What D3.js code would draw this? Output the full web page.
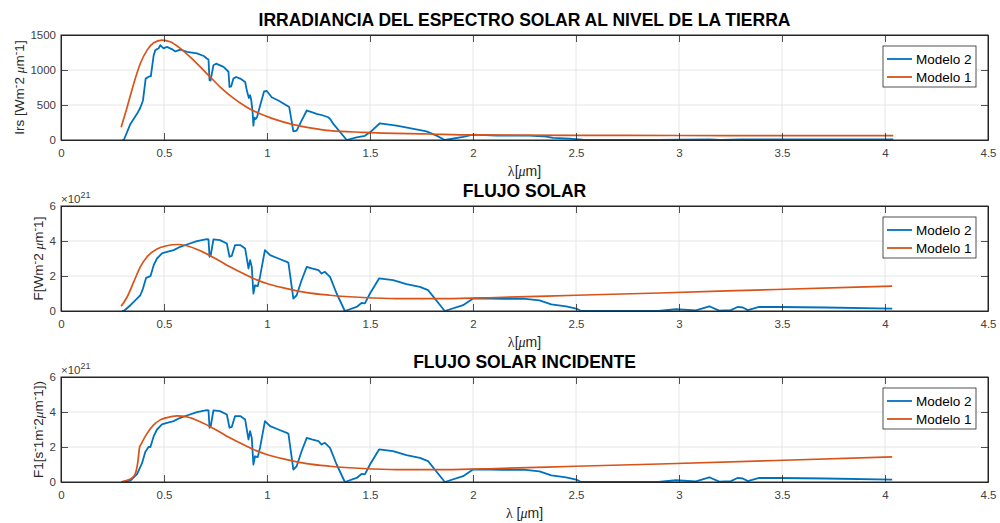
<!DOCTYPE html>
<html>
<head>
<meta charset="utf-8">
<script src="https://cdn.jsdelivr.net/npm/d3@7"></script>
<style>
  body { margin: 0; background: #fff; }
  svg { display: block; }
  text { font-family: "Liberation Sans", Arial, Helvetica, sans-serif; }
</style>
</head>
<body>
<div id="chart"></div>
<script>
// wavelength ticks (µm)
const xTicks = [0, 0.5, 1, 1.5, 2, 2.5, 3, 3.5, 4, 4.5];
const irrYTicks = [0, 500, 1000, 1500];
const fluxYTicks = [0, 2, 4, 6];   // in units of 1e21

// panel 1: irradiance [W m^-2 µm^-1], pairs [lambda, value]
const irrModelo2 = [
  [0.298, 0], [0.305, 0], [0.337, 230], [0.369, 374], [0.385, 460], [0.398, 565],
  [0.411, 877], [0.43, 910], [0.436, 910], [0.45, 1212], [0.458, 1284], [0.474, 1310],
  [0.482, 1356], [0.49, 1330], [0.498, 1310], [0.514, 1330], [0.54, 1295], [0.555, 1265],
  [0.58, 1290], [0.611, 1260], [0.66, 1237], [0.693, 1200], [0.708, 1165], [0.716, 1150],
  [0.721, 853], [0.726, 850], [0.74, 1069], [0.753, 1090], [0.789, 1044], [0.813, 975],
  [0.818, 757], [0.826, 765], [0.837, 877], [0.85, 900], [0.87, 877], [0.894, 828],
  [0.902, 709], [0.912, 600], [0.918, 640], [0.924, 560], [0.93, 400], [0.934, 205],
  [0.938, 320], [0.945, 300], [0.952, 330], [0.96, 420], [0.986, 695], [0.999, 700],
  [1.023, 610], [1.055, 565], [1.096, 493], [1.108, 470], [1.128, 124], [1.144, 133],
  [1.168, 277], [1.193, 421], [1.217, 398], [1.241, 374], [1.273, 350], [1.297, 325],
  [1.306, 302], [1.322, 230], [1.387, 0], [1.435, 37], [1.475, 60], [1.5, 110],
  [1.548, 239], [1.629, 206], [1.693, 168], [1.774, 124], [1.823, 62], [1.863, 0],
  [1.952, 44], [2.0, 76], [2.113, 62], [2.275, 62], [2.356, 48], [2.388, 30],
  [2.469, 20], [2.533, 5], [2.6, 3], [2.9, 2], [3.0, 6], [3.15, 10], [3.2, 2],
  [3.3, 8], [3.4, 10], [3.6, 8], [3.8, 8], [4.04, 7]
];
const irrModelo1 = [
  [0.292, 181], [0.321, 469], [0.353, 805], [0.385, 1093], [0.418, 1284], [0.45, 1389],
  [0.49, 1428], [0.53, 1404], [0.579, 1309], [0.643, 1140], [0.708, 949], [0.773, 757],
  [0.837, 598], [0.902, 469], [0.966, 374], [1.031, 302], [1.128, 220], [1.225, 167],
  [1.306, 134], [1.467, 110], [1.79, 86], [2.0, 72], [2.5, 66], [3.0, 64], [3.5, 63],
  [4.04, 63]
];

// panel 2: solar flux, values x 1e21
const fluxModelo2 = [
  [0.296, 0], [0.305, 0], [0.337, 0.33], [0.369, 0.71], [0.385, 0.9], [0.398, 1.28],
  [0.413, 1.89], [0.434, 1.99], [0.45, 2.62], [0.466, 3.0], [0.49, 3.29], [0.514, 3.38],
  [0.547, 3.48], [0.579, 3.67], [0.611, 3.8], [0.66, 3.99], [0.708, 4.11], [0.716, 4.09],
  [0.721, 3.1], [0.727, 3.2], [0.74, 4.09], [0.772, 4.05], [0.805, 3.86], [0.818, 3.1],
  [0.829, 3.15], [0.845, 3.77], [0.87, 3.77], [0.894, 3.57], [0.91, 2.43], [0.918, 2.9],
  [0.926, 2.52], [0.934, 1.0], [0.942, 1.47], [0.955, 1.42], [0.966, 1.95], [0.99, 3.48],
  [1.015, 3.19], [1.055, 3.0], [1.096, 2.81], [1.104, 2.75], [1.128, 0.71], [1.144, 0.9],
  [1.168, 1.76], [1.193, 2.52], [1.217, 2.43], [1.25, 2.33], [1.265, 2.14], [1.281, 2.24],
  [1.306, 1.95], [1.338, 1.0], [1.378, 0], [1.435, 0.23], [1.459, 0.46], [1.475, 0.44],
  [1.5, 1.0], [1.544, 1.86], [1.612, 1.76], [1.677, 1.53], [1.742, 1.38], [1.782, 1.19],
  [1.863, 0], [1.952, 0.33], [2.0, 0.71], [2.08, 0.71], [2.146, 0.69], [2.243, 0.71],
  [2.323, 0.61], [2.38, 0.38], [2.452, 0.27], [2.501, 0.14], [2.525, 0], [2.9, 0],
  [2.985, 0.1], [3.082, 0.04], [3.147, 0.27], [3.195, 0.02], [3.252, 0.05], [3.284, 0.23],
  [3.31, 0.2], [3.334, 0.05], [3.389, 0.23], [3.486, 0.23], [3.712, 0.2], [4.035, 0.14]
];
const fluxModelo1 = [
  [0.292, 0.27], [0.321, 0.8], [0.353, 1.66], [0.385, 2.52], [0.418, 3.1], [0.466, 3.54],
  [0.514, 3.73], [0.563, 3.8], [0.611, 3.73], [0.676, 3.44], [0.74, 3.06], [0.805, 2.62],
  [0.87, 2.23], [0.934, 1.86], [0.999, 1.57], [1.096, 1.28], [1.193, 1.05], [1.306, 0.9],
  [1.467, 0.77], [1.629, 0.71], [1.87, 0.71], [2.11, 0.77], [2.5, 0.9], [2.905, 1.03],
  [3.47, 1.23], [4.035, 1.42]
];

// panel 3: incident solar flux, values x 1e21
const incModelo2 = [
  [0.296, 0], [0.337, 0.08], [0.369, 0.45], [0.393, 1.06], [0.409, 1.72], [0.425, 2.0],
  [0.434, 2.0], [0.45, 2.62], [0.466, 3.0], [0.49, 3.29], [0.514, 3.38],
  [0.547, 3.48], [0.579, 3.67], [0.611, 3.8], [0.66, 3.99], [0.708, 4.11], [0.716, 4.09],
  [0.721, 3.1], [0.727, 3.2], [0.74, 4.09], [0.772, 4.05], [0.805, 3.86], [0.818, 3.1],
  [0.829, 3.15], [0.845, 3.77], [0.87, 3.77], [0.894, 3.57], [0.91, 2.43], [0.918, 2.9],
  [0.926, 2.52], [0.934, 1.0], [0.942, 1.47], [0.955, 1.42], [0.966, 1.95], [0.99, 3.48],
  [1.015, 3.19], [1.055, 3.0], [1.096, 2.81], [1.104, 2.75], [1.128, 0.71], [1.144, 0.9],
  [1.168, 1.76], [1.193, 2.52], [1.217, 2.43], [1.25, 2.33], [1.265, 2.14], [1.281, 2.24],
  [1.306, 1.95], [1.338, 1.0], [1.378, 0], [1.435, 0.23], [1.459, 0.46], [1.475, 0.44],
  [1.5, 1.0], [1.544, 1.86], [1.612, 1.76], [1.677, 1.53], [1.742, 1.38], [1.782, 1.19],
  [1.863, 0], [1.952, 0.33], [2.0, 0.71], [2.08, 0.71], [2.146, 0.69], [2.243, 0.71],
  [2.323, 0.61], [2.38, 0.38], [2.452, 0.27], [2.501, 0.14], [2.525, 0], [2.9, 0],
  [2.985, 0.1], [3.082, 0.04], [3.147, 0.27], [3.195, 0.02], [3.252, 0.05], [3.284, 0.23],
  [3.31, 0.2], [3.334, 0.05], [3.389, 0.23], [3.486, 0.23], [3.712, 0.2], [4.035, 0.14]
];
const incModelo1 = [
  [0.292, 0], [0.321, 0.1], [0.345, 0.23], [0.361, 0.48], [0.372, 1.06], [0.382, 2.01],
  [0.388, 2.15], [0.418, 2.78], [0.45, 3.26], [0.482, 3.55], [0.514, 3.68], [0.563, 3.78],
  [0.611, 3.72], [0.676, 3.44], [0.74, 3.06], [0.805, 2.62], [0.87, 2.23], [0.934, 1.86],
  [0.999, 1.57], [1.096, 1.28], [1.193, 1.05], [1.306, 0.9], [1.467, 0.77], [1.629, 0.71],
  [1.87, 0.71], [2.11, 0.77], [2.5, 0.9], [2.905, 1.03], [3.47, 1.23], [4.035, 1.44]
];

const blue = "#0072BD";
const red = "#D95319";
const axisColor = "#262626";

const svg = d3.select("#chart")
    .append("svg")
    .attr("width", 1000)
    .attr("height", 523);

const x = d3.scaleLinear()
    .domain([0, 4.5])
    .range([61, 988]);

const panels = [
  { top: 35, bottom: 140, yMax: 1500, yTicks: irrYTicks,
    title: "IRRADIANCIA DEL ESPECTRO SOLAR AL NIVEL DE LA TIERRA",
    ylabel: [["Irs [Wm"], ["-", 1], ["2 "], ["μ", 2], ["m"], ["-", 1], ["1]"]], ylabelX: 24,
    xlabel: "[", m2: irrModelo2, m1: irrModelo1, exp: false },
  { top: 206, bottom: 311, yMax: 6, yTicks: fluxYTicks,
    title: "FLUJO SOLAR",
    ylabel: [["F[Wm"], ["-", 1], ["2 "], ["μ", 2], ["m"], ["-", 1], ["1]"]], ylabelX: 43,
    xlabel: "[", m2: fluxModelo2, m1: fluxModelo1, exp: true },
  { top: 377, bottom: 482, yMax: 6, yTicks: fluxYTicks,
    title: "FLUJO SOLAR INCIDENTE",
    ylabel: [["F1[s"], ["-", 1], ["1m"], ["-", 1], ["2"], ["μ", 2], ["m"], ["-", 1], ["1])"]], ylabelX: 43,
    xlabel: " [", m2: incModelo2, m1: incModelo1, exp: true }
];

// write text parts: [string] plain, [string,1] superscript, [string,2] greek
function richText(sel, parts) {
  let raised = false;
  parts.forEach(p => {
    const t = sel.append("tspan").text(p[0]);
    if (p[1] === 1) {
      t.attr("dy", -5).attr("font-size", "0.8em");
      raised = true;
    } else {
      if (raised) { t.attr("dy", 5); raised = false; }
      if (p[1] === 2) t.attr("font-family", "'Liberation Serif', serif").attr("font-style", "italic");
    }
  });
}

panels.forEach(p => {
  const y = d3.scaleLinear()
      .domain([0, p.yMax])
      .range([p.bottom, p.top]);

  const g = svg.append("g");

  // grid
  g.append("g").selectAll("line").data(xTicks.slice(1, -1)).join("line")
      .attr("x1", d => x(d)).attr("x2", d => x(d))
      .attr("y1", p.top).attr("y2", p.bottom)
      .attr("stroke", "#dfdfdf").attr("stroke-width", 0.8);
  g.append("g").selectAll("line").data(p.yTicks.slice(1, -1)).join("line")
      .attr("x1", 61).attr("x2", 988)
      .attr("y1", d => y(d)).attr("y2", d => y(d))
      .attr("stroke", "#dfdfdf").attr("stroke-width", 0.8);

  // series
  const line = d3.line()
      .x(d => x(d[0]))
      .y(d => y(d[1]));
  const smooth = d3.line()
      .x(d => x(d[0]))
      .y(d => y(d[1]))
      .curve(d3.curveMonotoneX);

  g.append("path").datum(p.m2)
      .attr("fill", "none").attr("stroke", blue)
      .attr("stroke-width", 1.8).attr("stroke-linejoin", "round")
      .attr("d", line);
  g.append("path").datum(p.m1)
      .attr("fill", "none").attr("stroke", red)
      .attr("stroke-width", 1.7).attr("stroke-linejoin", "round")
      .attr("d", smooth);

  // axes, ticks inward
  const bottomAxis = g.append("g")
      .attr("transform", `translate(0,${p.bottom})`)
      .call(d3.axisBottom(x).tickValues(xTicks).tickSize(-7).tickSizeOuter(0).tickPadding(9)
          .tickFormat(d3.format("")));
  const topAxis = g.append("g")
      .attr("transform", `translate(0,${p.top})`)
      .call(d3.axisTop(x).tickValues(xTicks).tickSize(-7).tickSizeOuter(0).tickFormat(""));
  const leftAxis = g.append("g")
      .attr("transform", "translate(61,0)")
      .call(d3.axisLeft(y).tickValues(p.yTicks).tickSize(-7).tickSizeOuter(0).tickPadding(5)
          .tickFormat(d3.format("")));
  const rightAxis = g.append("g")
      .attr("transform", "translate(988,0)")
      .call(d3.axisRight(y).tickValues(p.yTicks).tickSize(-7).tickSizeOuter(0).tickFormat(""));

  [bottomAxis, topAxis, leftAxis, rightAxis].forEach(a => {
    a.select(".domain").attr("stroke", axisColor);
    a.selectAll(".tick line").attr("stroke", axisColor).attr("stroke-width", 0.8);
    a.selectAll(".tick text")
        .attr("fill", "#404040")
        .attr("font-size", 11.5)
        .attr("font-family", "'Liberation Sans', Arial, sans-serif");
  });

  // box
  g.append("rect")
      .attr("x", 61).attr("y", p.top)
      .attr("width", 988 - 61).attr("height", p.bottom - p.top)
      .attr("fill", "none").attr("stroke", axisColor).attr("stroke-width", 1);

  // exponent
  if (p.exp) {
    const e = g.append("text")
        .attr("x", 61).attr("y", p.top - 3.5)
        .attr("font-size", 11.5).attr("fill", "#404040");
    e.append("tspan").text("×10");
    e.append("tspan").attr("dy", -5).attr("font-size", 9).text("21");
  }

  // title
  g.append("text")
      .attr("x", (61 + 988) / 2).attr("y", p.top - 9)
      .attr("text-anchor", "middle")
      .attr("font-size", 17.5).attr("font-weight", "bold").attr("fill", "#000")
      .text(p.title);

  // x label
  const xl = g.append("text")
      .attr("x", (61 + 988) / 2).attr("y", p.bottom + 36)
      .attr("text-anchor", "middle")
      .attr("font-size", 14).attr("fill", axisColor);
  xl.append("tspan").attr("font-family", "'Liberation Serif', serif").text("λ");
  xl.append("tspan").text(p.xlabel);
  xl.append("tspan").attr("font-family", "'Liberation Serif', serif").attr("font-style", "italic").text("μ");
  xl.append("tspan").text("m]");

  // y label
  const yl = g.append("text")
      .attr("transform", `translate(${p.ylabelX},${(p.top + p.bottom) / 2}) rotate(-90)`)
      .attr("text-anchor", "middle")
      .attr("font-size", 13.5).attr("fill", axisColor);
  richText(yl, p.ylabel);

  // legend
  const lx = 883, ly = p.top + 11;
  const leg = g.append("g");
  leg.append("rect")
      .attr("x", lx).attr("y", ly).attr("width", 93).attr("height", 41)
      .attr("fill", "#fff").attr("stroke", axisColor).attr("stroke-width", 0.8);
  [["Modelo 2", blue, 13], ["Modelo 1", red, 31]].forEach(([name, c, dy]) => {
    leg.append("line")
        .attr("x1", lx + 4).attr("x2", lx + 29)
        .attr("y1", ly + dy).attr("y2", ly + dy)
        .attr("stroke", c).attr("stroke-width", 1.8);
    leg.append("text")
        .attr("x", lx + 33).attr("y", ly + dy + 5)
        .attr("font-size", 13.5).attr("fill", "#000")
        .text(name);
  });
});
</script>
</body>
</html>
